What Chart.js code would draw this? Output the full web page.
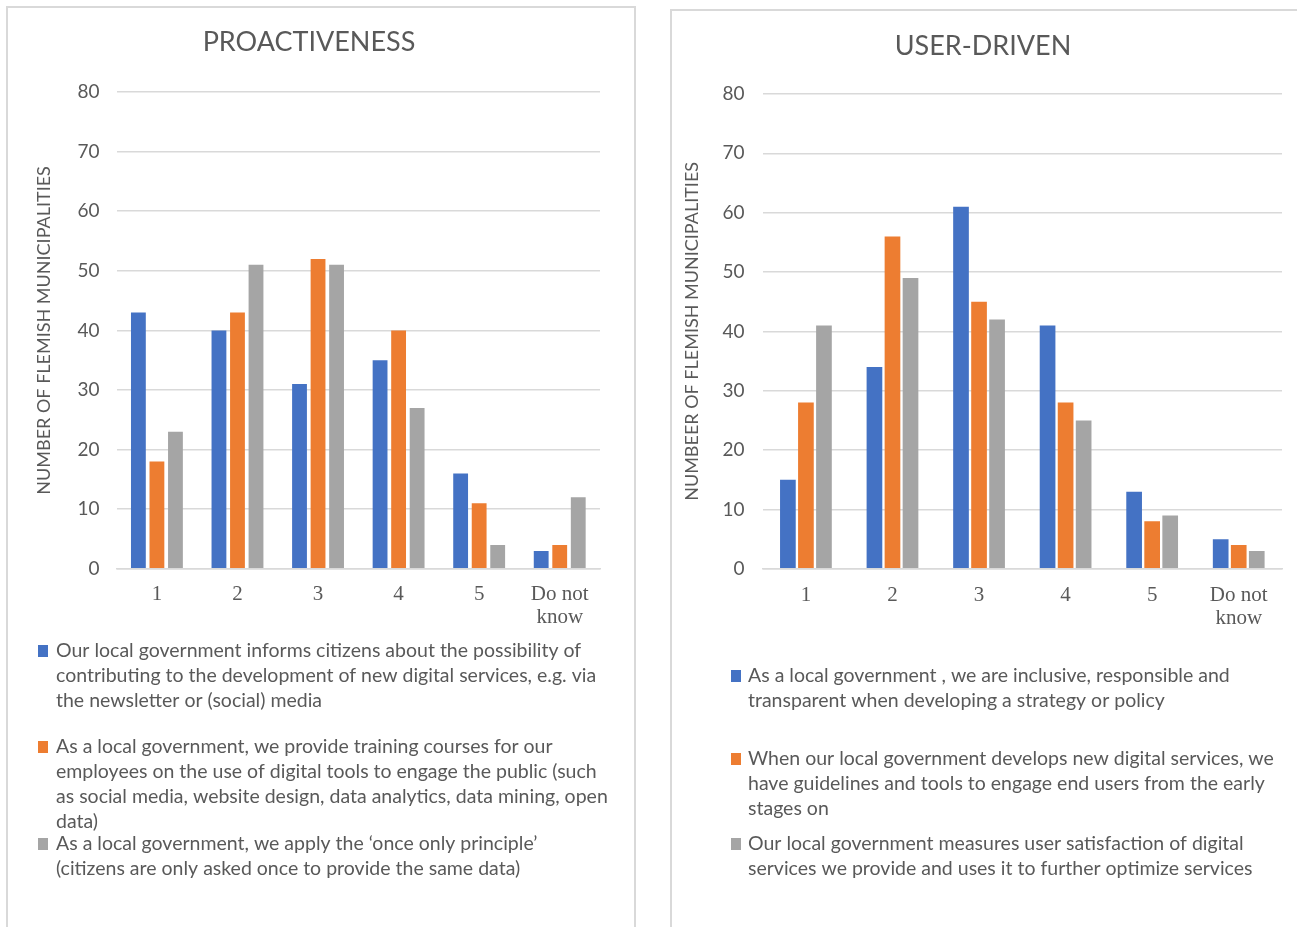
<!DOCTYPE html>
<html>
<head>
<meta charset="utf-8">
<script src="https://cdn.jsdelivr.net/npm/chart.js@4.4.1/dist/chart.umd.min.js"></script>
<style>
  html, body { margin: 0; padding: 0; background: #fff; overflow: hidden; }
  body { width: 1297px; height: 927px; position: relative; }
  .panel { position: absolute; border: 2px solid #d9d9d9; background: #fff; box-sizing: border-box; }
  #p1 { left: 6px; top: 6px; width: 630px; height: 940px; }
  #p2 { left: 670px; top: 9px; width: 650px; height: 940px; }
  canvas { position: absolute; left: 0; top: 0; }
</style>
</head>
<body>
<div class="panel" id="p1"><canvas id="c1" width="626" height="936"></canvas></div>
<div class="panel" id="p2"><canvas id="c2" width="646" height="936"></canvas></div>
<script>
// Answer categories on the x axis
const categories = ['1', '2', '3', '4', '5', ['Do not', 'know']];
const yTickValues = [0, 10, 20, 30, 40, 50, 60, 70, 80];

// PROACTIVENESS: number of municipalities per answer
const proInform   = [43, 40, 31, 35, 16, 3];
const proTraining = [18, 43, 52, 40, 11, 4];
const proOnceOnly = [23, 51, 51, 27, 4, 12];

// USER-DRIVEN: number of municipalities per answer
const userInclusive    = [15, 34, 61, 41, 13, 5];
const userGuidelines   = [28, 56, 45, 28, 8, 4];
const userSatisfaction = [41, 49, 42, 25, 9, 3];

// Legend texts, one array of lines per series
const proLegend = [
  ['Our local government informs citizens about the possibility of',
   'contributing to the development of new digital services, e.g. via',
   'the newsletter or (social) media'],
  ['As a local government, we provide training courses for our',
   'employees on the use of digital tools to engage the public (such',
   'as social media, website design, data analytics, data mining, open',
   'data)'],
  ['As a local government, we apply the \u2018once only principle\u2019',
   '(citizens are only asked once to provide the same data)']
];
const userLegend = [
  ['As a local government , we are inclusive, responsible and',
   'transparent when developing a strategy or policy'],
  ['When our local government develops new digital services, we',
   'have guidelines and tools to engage end users from the early',
   'stages on'],
  ['Our local government measures user satisfaction of digital',
   'services we provide and uses it to further optimize services']
];

const COLORS = ['#4472C4', '#ED7D31', '#A5A5A5'];
const TEXT = '#595959';
const GRID = '#d9d9d9';

// Panel heading, centred on a fixed point of the panel
const panelTitle = {
  id: 'panelTitle',
  afterDraw(chart, args, opts) {
    const ctx = chart.ctx;
    ctx.save();
    ctx.font = opts.font;
    ctx.fillStyle = TEXT;
    ctx.textAlign = 'center';
    ctx.textBaseline = 'middle';
    ctx.fillText(opts.text, opts.x, opts.y);
    ctx.restore();
  }
};

// Draws a wrapped legend under the plot, one block of lines per dataset
const wrappedLegend = {
  id: 'wrappedLegend',
  afterDraw(chart, args, opts) {
    const ctx = chart.ctx;
    ctx.save();
    ctx.font = opts.font;
    ctx.textBaseline = 'middle';
    chart.data.datasets.forEach((ds, i) => {
      const lines = opts.lines[i];
      const y0 = opts.starts[i];
      ctx.fillStyle = ds.backgroundColor;
      ctx.fillRect(opts.boxX, y0 - 6, 10, 12);
      ctx.fillStyle = TEXT;
      lines.forEach((ln, k) => {
        ctx.fillText(ln, opts.textX, y0 + k * opts.lineHeight);
      });
    });
    ctx.restore();
  }
};

function makeChart(id, title, yTitle, series, legendLines, cfg) {
  const datasets = series.map((vals, i) => ({
    label: legendLines[i].join(' '),
    data: vals,
    backgroundColor: COLORS[i],
    borderWidth: 0,
    barPercentage: cfg.barPct,
    categoryPercentage: cfg.catPct
  }));
  return new Chart(document.getElementById(id), {
    type: 'bar',
    data: { labels: categories, datasets },
    options: {
      responsive: false,
      animation: false,
      events: [],
      layout: { padding: cfg.padding },
      plugins: {
        legend: { display: false },
        tooltip: { enabled: false },
        title: { display: false },
        panelTitle: {
          text: title,
          x: cfg.titleX,
          y: cfg.titleY,
          font: '27px Lato'
        },
        wrappedLegend: {
          lines: legendLines,
          starts: cfg.legendStarts,
          boxX: cfg.boxX,
          textX: cfg.textX,
          lineHeight: 25,
          font: '19.5px Lato'
        }
      },
      scales: {
        x: {
          grid: { display: false },
          border: { display: true, color: GRID, width: 1.5 },
          ticks: {
            color: TEXT,
            padding: cfg.xTickPad,
            maxRotation: 0,
            autoSkip: false,
            font: { family: 'Liberation Serif', size: 21, lineHeight: 1.1 }
          }
        },
        y: {
          min: 0,
          max: 80,
          afterBuildTicks(axis) { axis.ticks = yTickValues.map(v => ({ value: v })); },
          grid: { color: GRID, lineWidth: 1.5, drawTicks: false },
          border: { display: false },
          ticks: {
            color: TEXT,
            padding: cfg.yTickPad,
            font: { family: 'Lato', size: 19 }
          },
          title: {
            display: true,
            text: yTitle,
            color: TEXT,
            font: { family: 'Lato', size: 18 },
            padding: cfg.yTitlePad
          }
        }
      }
    },
    plugins: [panelTitle, wrappedLegend]
  });
}

makeChart('c1', 'PROACTIVENESS', 'NUMBER OF FLEMISH MUNICIPALITIES',
  [proInform, proTraining, proOnceOnly], proLegend, {
    barPct: 0.8, catPct: 0.69,
    padding: { left: 25, right: 34, top: 84, bottom: 309 },
    titleX: 301, titleY: 34,
    xTickPad: 6,
    yTickPad: 17,
    yTitlePad: { top: 0, bottom: 6 },
    legendStarts: [643, 739, 836],
    boxX: 30, textX: 48
  });

makeChart('c2', 'USER-DRIVEN', 'NUMBEER OF FLEMISH MUNICIPALITIES',
  [userInclusive, userGuidelines, userSatisfaction], userLegend, {
    barPct: 0.87, catPct: 0.625,
    padding: { left: 9, right: 36, top: 83, bottom: 310 },
    titleX: 311, titleY: 35,
    xTickPad: 7,
    yTickPad: 18,
    yTitlePad: { top: 0, bottom: 2 },
    legendStarts: [665, 748, 833],
    boxX: 59, textX: 76
  });
</script>
</body>
</html>
